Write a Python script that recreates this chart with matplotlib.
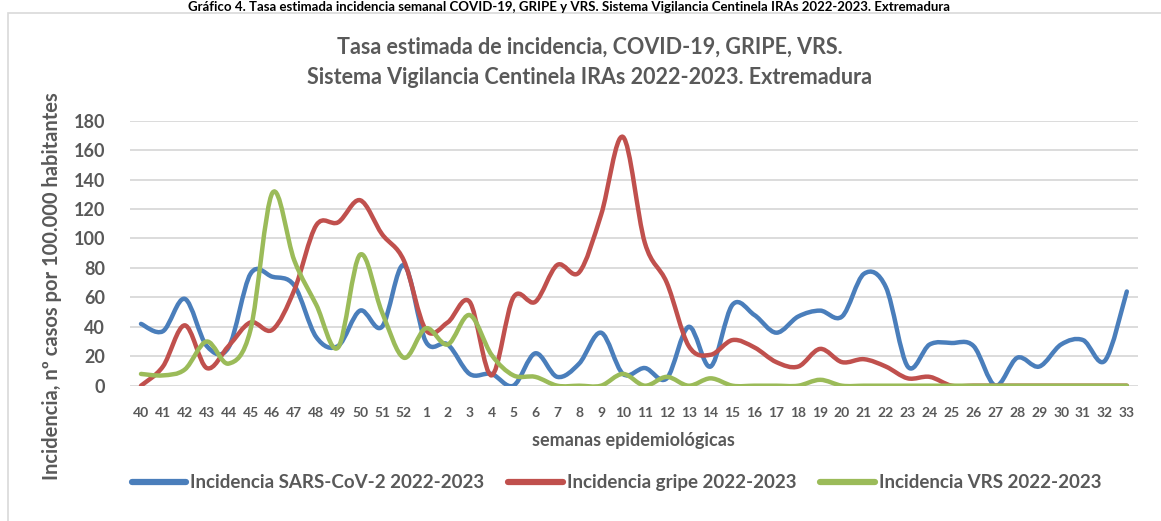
import matplotlib
matplotlib.use("Agg")
import matplotlib.pyplot as plt
from matplotlib.path import Path
from matplotlib.patches import PathPatch, Rectangle
from matplotlib.lines import Line2D
import numpy as np

plt.rcParams['font.family'] = ['Lato', 'DejaVu Sans']

weeks = ["40", "41", "42", "43", "44", "45", "46", "47", "48", "49", "50", "51", "52",
         "1", "2", "3", "4", "5", "6", "7", "8", "9", "10", "11", "12", "13", "14", "15",
         "16", "17", "18", "19", "20", "21", "22", "23", "24", "25", "26", "27", "28",
         "29", "30", "31", "32", "33"]

sars_cov2 = [42, 37, 59, 27, 26, 76, 74, 68, 33, 27, 51, 40, 82,
             30, 28, 8, 8, 0, 22, 6, 15, 36, 8, 12, 5, 40, 13, 55,
             48, 36, 47, 51, 47, 76, 67, 13, 28, 29, 27, 0, 19,
             13, 28, 31, 17, 64]

gripe = [0, 13, 41, 12, 27, 43, 38, 65, 109, 111, 126, 103, 85,
         38, 43, 57, 7, 60, 57, 82, 77, 116, 169, 97, 70, 27, 21, 31,
         26, 16, 13, 25, 16, 18, 13, 5, 6, 0, 0, 0, 0,
         0, 0, 0, 0, 0]

vrs = [8, 7, 11, 30, 15, 38, 131, 85, 55, 26, 89, 50, 19,
       39, 28, 48, 21, 7, 6, 0, 0, 0, 8, 0, 6, 0, 5, 0,
       0, 0, 0, 4, 0, 0, 0, 0, 0, 0, 0, 0, 0,
       0, 0, 0, 0, 0]

series_names = ["Incidencia SARS-CoV-2 2022-2023", "Incidencia gripe 2022-2023",
                "Incidencia VRS 2022-2023"]
colors = ["#4A7EBB", "#C0504D", "#9BBB59"]
grey = "#595959"


def smooth_path(xs, ys):
    # excel style smoothed line: bezier segments through the points
    pts = np.column_stack([xs, ys]).astype(float)
    n = len(pts)
    verts = [pts[0]]
    codes = [Path.MOVETO]
    for i in range(n - 1):
        p0 = pts[i - 1] if i > 0 else pts[i]
        p1 = pts[i]
        p2 = pts[i + 1]
        p3 = pts[i + 2] if i + 2 < n else pts[i + 1]
        c1 = p1 + (p2 - p0) / 6.0
        c2 = p2 - (p3 - p1) / 6.0
        verts += [c1, c2, p2]
        codes += [Path.CURVE4] * 3
    return Path(verts, codes)


fig = plt.figure(figsize=(11.61, 5.21), dpi=100)
ax = fig.add_axes([0.112, 0.2597, 0.868, 0.5086])

x = np.arange(len(weeks))
for vals, c in zip([sars_cov2, gripe, vrs], colors):
    ax.add_patch(PathPatch(smooth_path(x, vals), facecolor="none", edgecolor=c,
                           lw=3.2, capstyle="round", joinstyle="round", zorder=3))

ax.set_xlim(-0.5, len(weeks) - 0.5)
ax.set_ylim(0, 180)
ax.set_yticks(np.arange(0, 181, 20))
ax.set_xticks(x)
ax.set_xticklabels(weeks)
ax.yaxis.grid(True, color="#D9D9D9", lw=1.3)
ax.set_axisbelow(True)
for s in ax.spines.values():
    s.set_visible(False)
ax.tick_params(length=0)
ax.tick_params(axis="y", labelsize=13, labelcolor=grey, pad=18)
ax.tick_params(axis="x", labelsize=10, labelcolor=grey, pad=15)
for lab in ax.get_xticklabels() + ax.get_yticklabels():
    lab.set_fontweight("bold")

ax.set_xlabel("semanas epidemiológicas", fontsize=13, fontweight="bold", color=grey, labelpad=10)
fig.text(0.045, 0.451, "Incidencia, nº casos por 100.000 habitantes", rotation=90,
         ha="center", va="center", fontsize=14.5, fontweight="bold", color=grey)

fig.text(0.508, 0.91, "Tasa estimada de incidencia, COVID-19, GRIPE, VRS.", ha="center",
         va="center", fontsize=15.5, fontweight="bold", color=grey)
fig.text(0.508, 0.852, "Sistema Vigilancia Centinela IRAs 2022-2023. Extremadura", ha="center",
         va="center", fontsize=15.5, fontweight="bold", color=grey)

# caption of the report, above the chart frame
fig.text(0.49, 0.999, "Gráfico 4. Tasa estimada incidencia semanal COVID-19, GRIPE y VRS. "
         "Sistema Vigilancia Centinela IRAs 2022-2023. Extremadura",
         ha="center", va="top", fontsize=9.5, fontweight="bold", color="black")

# chart frame
fig.patches.append(Rectangle((8 / 1161, -0.01), 1.1, 1 - 13 / 521 + 0.01,
                             transform=fig.transFigure, fill=False,
                             edgecolor="#D9D9D9", lw=1.2))

handles = [Line2D([0], [0], color=c, lw=4.5, solid_capstyle="round") for c in colors]
fig.legend(handles, series_names, loc="center", bbox_to_anchor=(0.531, 0.073), ncol=3,
           frameon=False, handlelength=2.9, handletextpad=0.2, columnspacing=1.3,
           prop={"size": 13.5, "weight": "bold"}, labelcolor=grey)

fig.savefig("out.png", dpi=100)
